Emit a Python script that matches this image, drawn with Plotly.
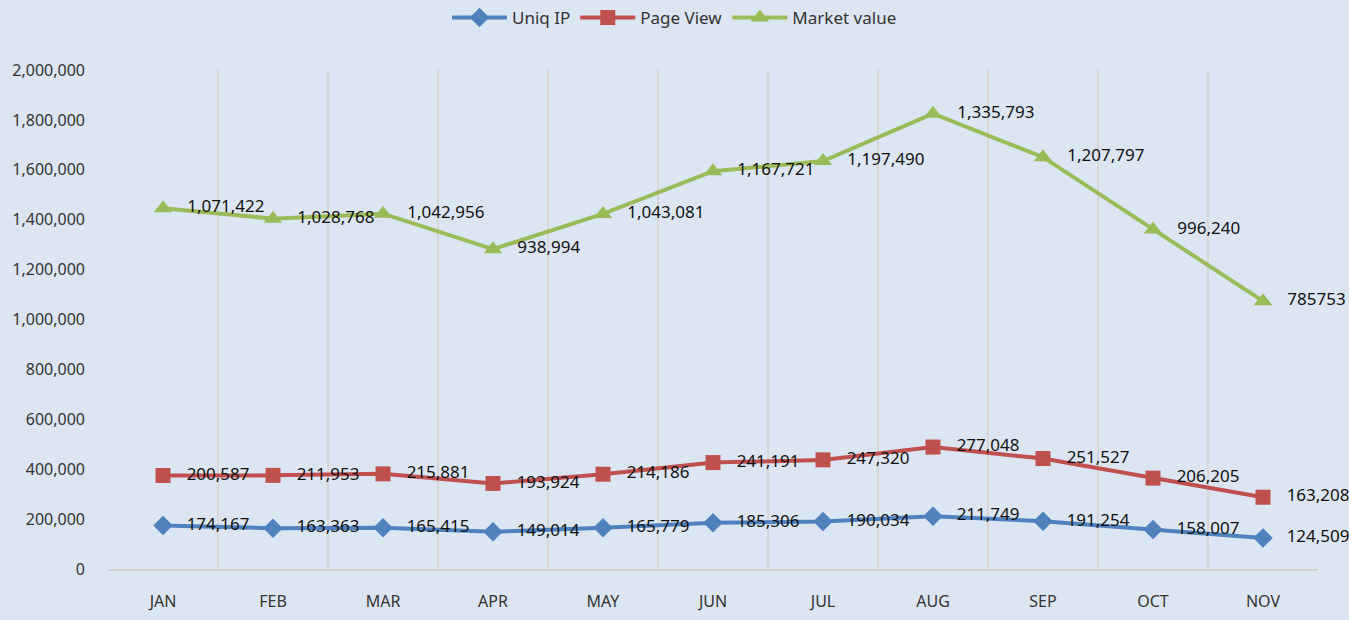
import plotly.graph_objects as go

months = ["JAN", "FEB", "MAR", "APR", "MAY", "JUN", "JUL", "AUG", "SEP", "OCT", "NOV"]
uniq_ip = [174167, 163363, 165415, 149014, 165779, 185306, 190034, 211749, 191254, 158007, 124509]
page_view = [200587, 211953, 215881, 193924, 214186, 241191, 247320, 277048, 251527, 206205, 163208]
market_value = [1071422, 1028768, 1042956, 938994, 1043081, 1167721, 1197490, 1335793, 1207797, 996240, 785753]

def fmt(vals, plain_last=False):
    out = ["   " + f"{v:,}" for v in vals]
    if plain_last:
        out[-1] = "   " + str(vals[-1])
    return out

series = [
    ("Uniq IP", uniq_ip, "#4F81BD", "diamond", 15, fmt(uniq_ip)),
    ("Page View", page_view, "#C0504D", "square", 15, fmt(page_view)),
    ("Market value", market_value, "#9BBB59", "triangle-up", 16, fmt(market_value, plain_last=True)),
]

fig = go.Figure()
for name, vals, color, sym, size, labels in series:
    fig.add_trace(go.Scatter(
        x=months, y=vals, name=name, stackgroup="one", fill="none",
        mode="lines+markers+text",
        line=dict(color=color, width=4),
        marker=dict(color=color, symbol=sym, size=size),
        text=labels, textposition="middle right", cliponaxis=False,
        textfont=dict(color="#111111", size=17, family="Noto Sans"),
    ))

bg = "#DCE6F2"
fig.update_layout(
    width=1349, height=620,
    paper_bgcolor=bg, plot_bgcolor=bg,
    margin=dict(l=108, r=31, t=70, b=51),
    font=dict(family="Noto Sans", size=16, color="#333333"),
    showlegend=True,
    legend=dict(orientation="h", x=0.5, xref="container", xanchor="center",
                y=1.0, yref="container", yanchor="top",
                font=dict(size=17, color="#333333"),
                bgcolor="rgba(0,0,0,0)", itemwidth=55),
    xaxis=dict(type="category", range=[-0.5, 10.5], tickson="boundaries",
               showgrid=True, gridcolor="#D6D6D6", gridwidth=2,
               showline=True, linecolor="#D0D0D0", linewidth=2,
               ticks="", ticklabelstandoff=17, automargin=False, fixedrange=True),
    yaxis=dict(range=[0, 2000000], dtick=200000, tickformat=",",
               showgrid=False, zeroline=False, showline=False,
               ticks="", ticklabelstandoff=22, automargin=False),
)

fig.write_html("out.html", config={"displayModeBar": False})
with open("out.html", "r", encoding="utf-8") as f:
    html = f.read()
html = html.replace("<head>", "<head><style>html,body{margin:0;padding:0;overflow:hidden;}</style>", 1)
with open("out.html", "w", encoding="utf-8") as f:
    f.write(html)
